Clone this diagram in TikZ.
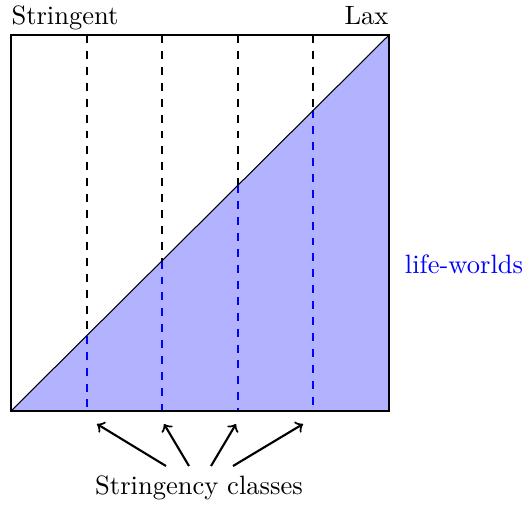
\documentclass[tikz,border=0pt]{standalone}
\begin{document}
\begin{tikzpicture}[x=0.377pt,y=-0.377pt,
  lbl/.style={inner sep=0pt},
  dsh/.style={dashed,thick},
  arr/.style={->,thick}]
\useasboundingbox (0,0) rectangle (523,504);
\coordinate (BL) at (11,411);
\coordinate (BR) at (389,411);
\coordinate (TR) at (389,35);
\coordinate (TL) at (11,35);
\fill[blue!30] (BL) -- (BR) -- (TR) -- cycle;
\foreach \i in {1,2,3,4}{
  \pgfmathsetmacro{\xx}{11+75.6*\i}
  \pgfmathsetmacro{\yy}{411-75.2*\i}
  \draw[dsh] (\xx,35) -- (\xx,\yy);
  \draw[dsh,blue] (\xx,\yy) -- (\xx,411);
}
\draw (BL) -- (TR);
\draw[thick] (TL) rectangle (BR);
\node[lbl,anchor=base west] (str) at (11,24) {Stringent};
\node[lbl,anchor=base east] (lax) at (389,24) {Lax};
\node[lbl,blue] (lw) at (464,264) {life-worlds};
\node[lbl,anchor=base] (sc) at (199,494) {Stringency classes};
\coordinate (s1) at (166,466);
\coordinate (s2) at (189,466);
\coordinate (s3) at (211,466);
\coordinate (s4) at (233,466);
\coordinate (e1) at (97,424);
\coordinate (e2) at (164,424);
\coordinate (e3) at (236,424);
\coordinate (e4) at (303,424);
\draw[arr] (s1) -- (e1);
\draw[arr] (s2) -- (e2);
\draw[arr] (s3) -- (e3);
\draw[arr] (s4) -- (e4);
\end{tikzpicture}
\end{document}
